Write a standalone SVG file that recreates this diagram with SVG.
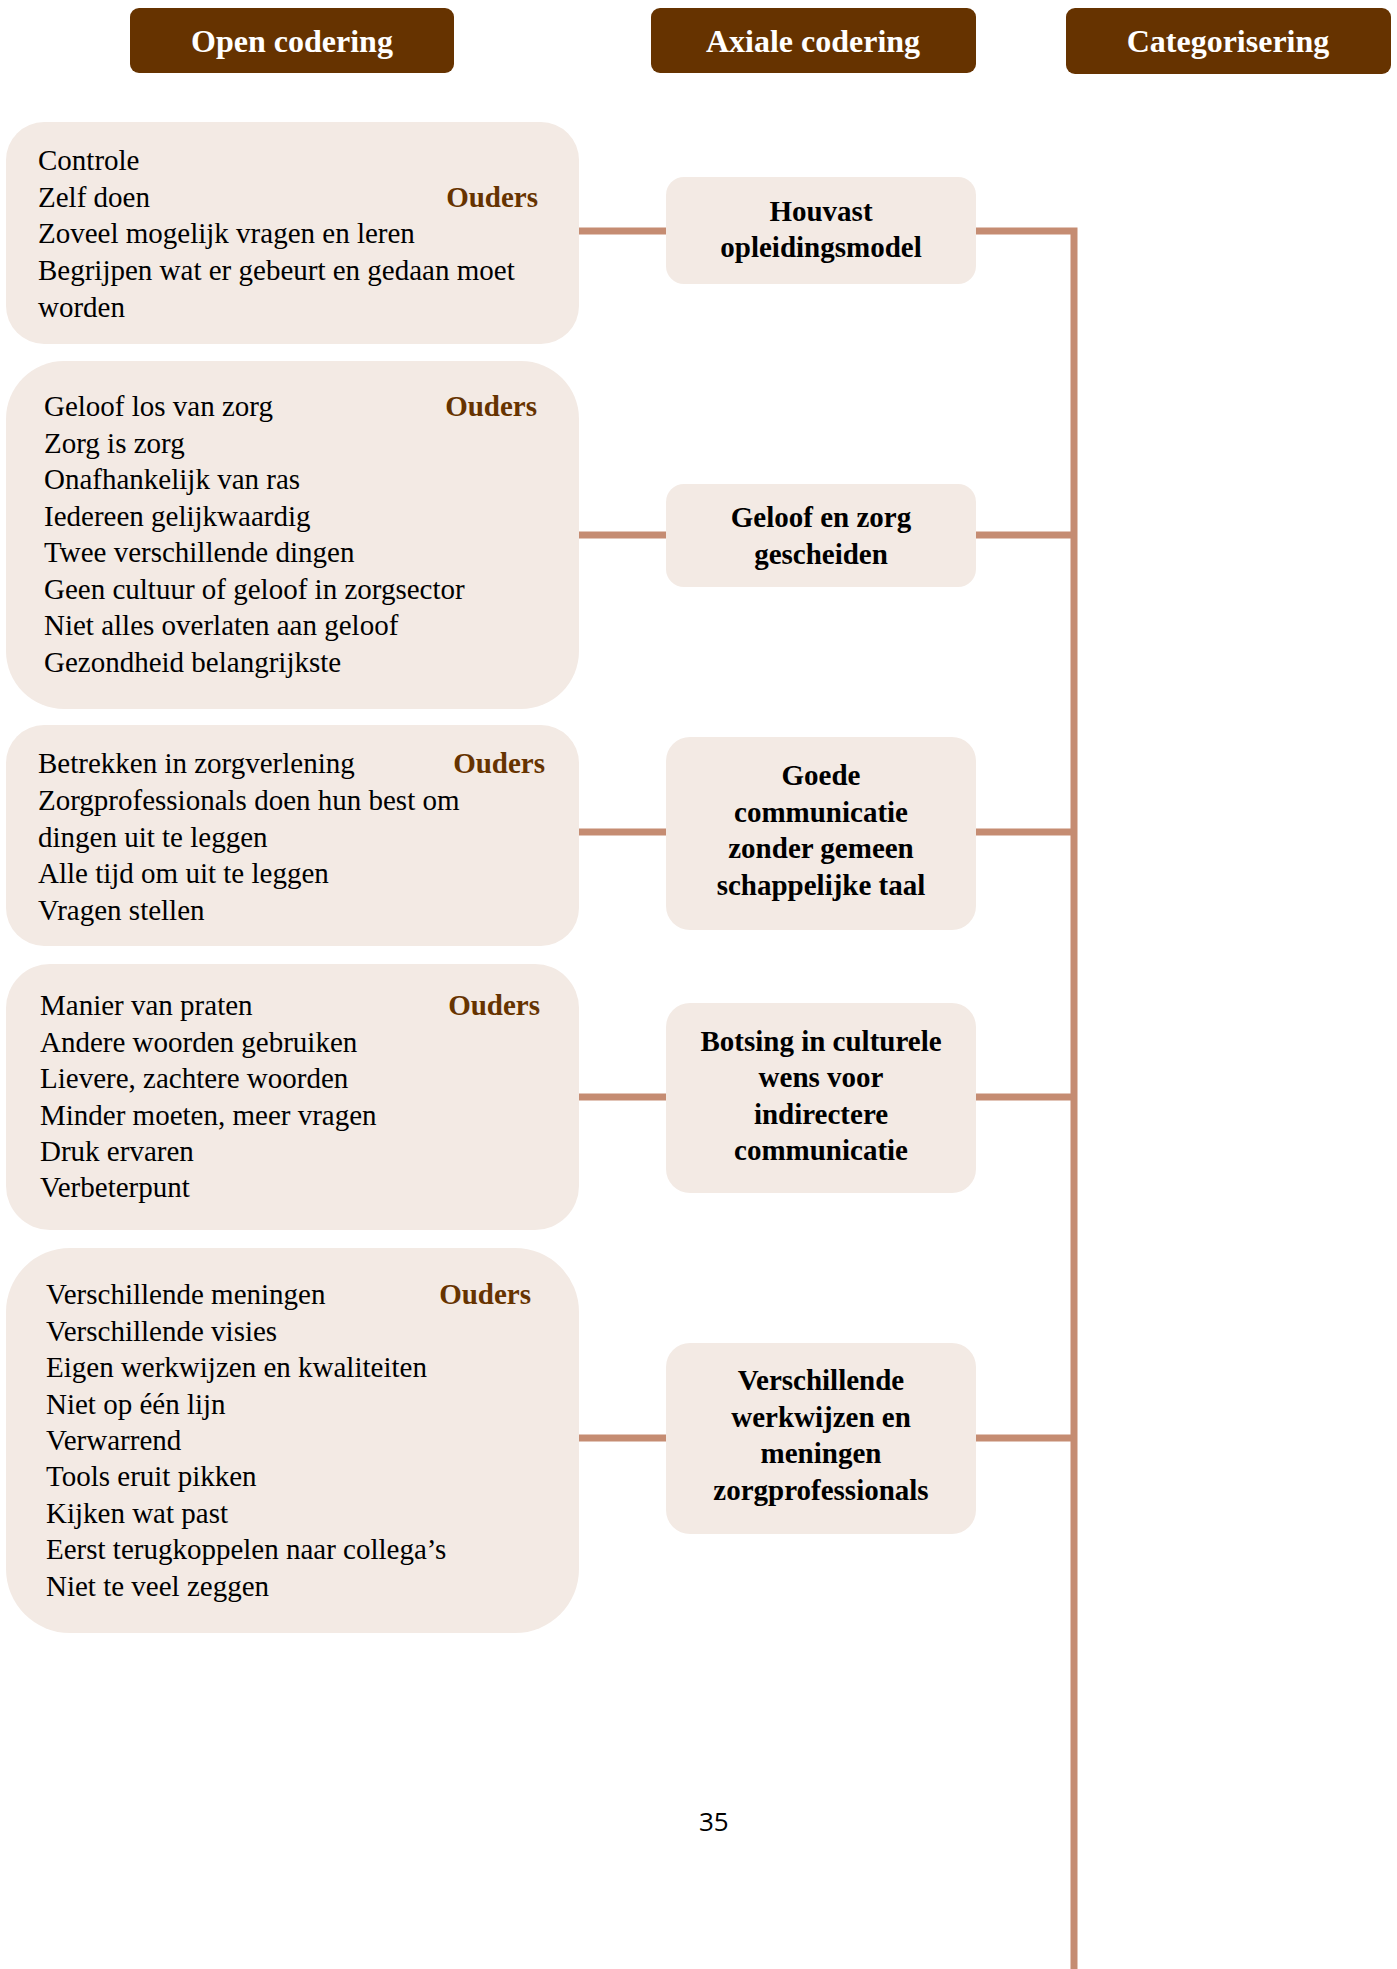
<svg xmlns="http://www.w3.org/2000/svg" width="1397" height="1969" viewBox="0 0 1397 1969">
<style>
.hdr{fill:#663300}
.htx{font-family:"Liberation Serif",serif;font-weight:bold;font-size:32px;fill:#ffffff;text-anchor:middle}
.box{fill:#F3EAE4}
.tx{font-family:"Liberation Serif",serif;font-size:29px;fill:#000}
.ou{font-family:"Liberation Serif",serif;font-size:29px;font-weight:bold;fill:#663300;text-anchor:end}
.mt{font-family:"Liberation Serif",serif;font-size:29px;font-weight:bold;fill:#000;text-anchor:middle}
.ln{stroke:#C58C72;stroke-width:7;fill:none}
.pg{font-family:"Open Sans","Noto Sans",sans-serif;font-size:26px;fill:#000}
</style>
<rect width="1397" height="1969" fill="#ffffff"/>

<g id="connectors">
<line class="ln" x1="579" y1="231" x2="666" y2="231"/>
<line class="ln" x1="579" y1="535" x2="666" y2="535"/>
<line class="ln" x1="579" y1="832" x2="666" y2="832"/>
<line class="ln" x1="579" y1="1097" x2="666" y2="1097"/>
<line class="ln" x1="579" y1="1438" x2="666" y2="1438"/>
<polyline class="ln" points="976,231 1074,231 1074,1969"/>
<line class="ln" x1="976" y1="535" x2="1074" y2="535"/>
<line class="ln" x1="976" y1="832" x2="1074" y2="832"/>
<line class="ln" x1="976" y1="1097" x2="1074" y2="1097"/>
<line class="ln" x1="976" y1="1438" x2="1074" y2="1438"/>
</g>

<g id="header-open">
<rect class="hdr" x="130" y="8" width="324" height="65" rx="9"/>
<text class="htx" x="292" y="52">Open codering</text>
</g>
<g id="header-axiaal">
<rect class="hdr" x="651" y="8" width="325" height="65" rx="9"/>
<text class="htx" x="813" y="52">Axiale codering</text>
</g>
<g id="header-cat">
<rect class="hdr" x="1066" y="8" width="325" height="66" rx="9"/>
<text class="htx" x="1228" y="52">Categorisering</text>
</g>

<g id="open1">
<rect class="box" x="6" y="122" width="573" height="222" rx="38"/>
<text class="tx" x="38" y="170">Controle</text>
<text class="tx" x="38" y="207">Zelf doen</text>
<text class="tx" x="38" y="243">Zoveel mogelijk vragen en leren</text>
<text class="tx" x="38" y="280">Begrijpen wat er gebeurt en gedaan moet</text>
<text class="tx" x="38" y="317">worden</text>
<text class="ou" x="538" y="207">Ouders</text>
</g>

<g id="open2">
<rect class="box" x="6" y="361" width="573" height="348" rx="58"/>
<text class="tx" x="44" y="416">Geloof los van zorg</text>
<text class="tx" x="44" y="453">Zorg is zorg</text>
<text class="tx" x="44" y="489">Onafhankelijk van ras</text>
<text class="tx" x="44" y="526">Iedereen gelijkwaardig</text>
<text class="tx" x="44" y="562">Twee verschillende dingen</text>
<text class="tx" x="44" y="599">Geen cultuur of geloof in zorgsector</text>
<text class="tx" x="44" y="635">Niet alles overlaten aan geloof</text>
<text class="tx" x="44" y="672">Gezondheid belangrijkste</text>
<text class="ou" x="537" y="416">Ouders</text>
</g>

<g id="open3">
<rect class="box" x="6" y="725" width="573" height="221" rx="38"/>
<text class="tx" x="38" y="773">Betrekken in zorgverlening</text>
<text class="tx" x="38" y="810">Zorgprofessionals doen hun best om</text>
<text class="tx" x="38" y="847">dingen uit te leggen</text>
<text class="tx" x="38" y="883">Alle tijd om uit te leggen</text>
<text class="tx" x="38" y="920">Vragen stellen</text>
<text class="ou" x="545" y="773">Ouders</text>
</g>

<g id="open4">
<rect class="box" x="6" y="964" width="573" height="266" rx="44"/>
<text class="tx" x="40" y="1015">Manier van praten</text>
<text class="tx" x="40" y="1052">Andere woorden gebruiken</text>
<text class="tx" x="40" y="1088">Lievere, zachtere woorden</text>
<text class="tx" x="40" y="1125">Minder moeten, meer vragen</text>
<text class="tx" x="40" y="1161">Druk ervaren</text>
<text class="tx" x="40" y="1197">Verbeterpunt</text>
<text class="ou" x="540" y="1015">Ouders</text>
</g>

<g id="open5">
<rect class="box" x="6" y="1248" width="573" height="385" rx="64"/>
<text class="tx" x="46" y="1304">Verschillende meningen</text>
<text class="tx" x="46" y="1341">Verschillende visies</text>
<text class="tx" x="46" y="1377">Eigen werkwijzen en kwaliteiten</text>
<text class="tx" x="46" y="1414">Niet op één lijn</text>
<text class="tx" x="46" y="1450">Verwarrend</text>
<text class="tx" x="46" y="1486">Tools eruit pikken</text>
<text class="tx" x="46" y="1523">Kijken wat past</text>
<text class="tx" x="46" y="1559">Eerst terugkoppelen naar collega’s</text>
<text class="tx" x="46" y="1596">Niet te veel zeggen</text>
<text class="ou" x="531" y="1304">Ouders</text>
</g>

<g id="axiaal1">
<rect class="box" x="666" y="177" width="310" height="107" rx="18"/>
<text class="mt" x="821" y="221">Houvast</text>
<text class="mt" x="821" y="257">opleidingsmodel</text>
</g>
<g id="axiaal2">
<rect class="box" x="666" y="484" width="310" height="103" rx="18"/>
<text class="mt" x="821" y="527">Geloof en zorg</text>
<text class="mt" x="821" y="564">gescheiden</text>
</g>
<g id="axiaal3">
<rect class="box" x="666" y="737" width="310" height="193" rx="24"/>
<text class="mt" x="821" y="785">Goede</text>
<text class="mt" x="821" y="822">communicatie</text>
<text class="mt" x="821" y="858">zonder gemeen</text>
<text class="mt" x="821" y="895">schappelijke taal</text>
</g>
<g id="axiaal4">
<rect class="box" x="666" y="1003" width="310" height="190" rx="24"/>
<text class="mt" x="821" y="1051">Botsing in culturele</text>
<text class="mt" x="821" y="1087">wens voor</text>
<text class="mt" x="821" y="1124">indirectere</text>
<text class="mt" x="821" y="1160">communicatie</text>
</g>
<g id="axiaal5">
<rect class="box" x="666" y="1343" width="310" height="191" rx="24"/>
<text class="mt" x="821" y="1390">Verschillende</text>
<text class="mt" x="821" y="1427">werkwijzen en</text>
<text class="mt" x="821" y="1463">meningen</text>
<text class="mt" x="821" y="1500">zorgprofessionals</text>
</g>

<text class="pg" x="699" y="1831">35</text>
</svg>
